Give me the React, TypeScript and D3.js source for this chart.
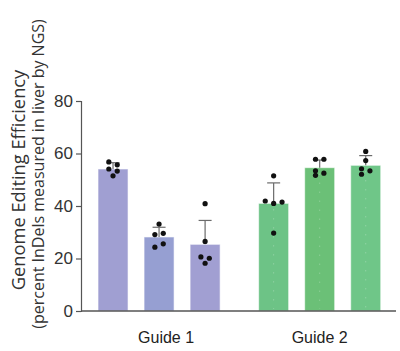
import { useEffect, useRef } from "react"
import * as d3 from "d3"

// groups and bars
const groups = ["Guide 1", "Guide 2"]
const barsPerGroup = [0, 1, 2]

// mean editing efficiency per bar (%)
const guide1Means = [54.1, 28.2, 25.4]
const guide2Means = [41.0, 54.6, 55.5]

// standard deviation (upper whisker only)
const guide1Sd = [2.4, 3.7, 9.1]
const guide2Sd = [7.8, 2.9, 3.7]

// individual animals
const guide1Points = [
  [56.8, 55.7, 54.1, 53.3, 51.5],
  [33.1, 29.1, 29.6, 24.3, 25.6],
  [40.9, 26.5, 20.6, 20.1, 18.2],
]
const guide2Points = [
  [51.5, 41.9, 41.0, 41.5, 29.7],
  [57.8, 57.8, 53.4, 51.7, 52.5],
  [60.8, 57.3, 54.2, 53.4, 52.1],
]

// horizontal jitter slot for each point (-2..2)
const guide1Jitter = [
  [-1, 1, -1, 1, 0],
  [0, -1, 1, -1, 1],
  [0, 0, -1, 1, 0],
]
const guide2Jitter = [
  [0, -2, 0, 2, 0],
  [-1, 1, -1, -1, 1],
  [0, 0, -1, 1, -1],
]

const yTicks = [0, 20, 40, 60, 80]

const guide1Colors = ["#a09fd2", "#969fd2", "#a19fd2"]
const guide2Colors = ["#6dc386", "#6bc077", "#6fc688"]

export default function App() {
  const svgRef = useRef<SVGSVGElement>(null)

  useEffect(() => {
    if (!svgRef.current) return
    d3.select(svgRef.current).selectAll("*").remove()

    const W = 400
    const H = 351
    const svg = d3.select(svgRef.current).attr("width", W).attr("height", H)

    const axisColor = "#555"
    const textColor = "#333"

    const y = d3.scaleLinear().domain([0, 80]).range([311, 101])
    const x0 = d3.scaleBand().domain(groups).range([78.75, 400]).padding(0)
    const x1 = d3
      .scaleBand<number>()
      .domain(barsPerGroup)
      .range([0, x0.bandwidth()])
      .paddingInner(0.348)
      .paddingOuter(0.4185)

    const data = [
      { group: groups[0], means: guide1Means, sd: guide1Sd, pts: guide1Points, jit: guide1Jitter, colors: guide1Colors },
      { group: groups[1], means: guide2Means, sd: guide2Sd, pts: guide2Points, jit: guide2Jitter, colors: guide2Colors },
    ]

    const bw = x1.bandwidth()

    data.forEach((g, gi) => {
      const gx = x0(g.group) || 0
      barsPerGroup.forEach((b) => {
        const bx = gx + (x1(b) || 0)
        const cx = bx + bw / 2
        const mean = g.means[b]
        // bar
        svg
          .append("rect")
          .attr("x", bx)
          .attr("y", y(mean))
          .attr("width", bw)
          .attr("height", y(0) - y(mean))
          .attr("fill", g.colors[b])
          .attr("stroke", "rgba(255,255,255,0.6)")
          .attr("stroke-width", 1)

        // faint dotted centre line on green bars
        if (gi === 1) {
          svg
            .append("line")
            .attr("x1", cx)
            .attr("x2", cx)
            .attr("y1", y(mean) + 6)
            .attr("y2", y(0) - 2)
            .attr("stroke", "rgba(255,255,255,0.35)")
            .attr("stroke-width", 1)
            .attr("stroke-dasharray", "1,8")
        }

        // error bar (upper)
        const top = y(mean + g.sd[b])
        svg
          .append("line")
          .attr("x1", cx)
          .attr("x2", cx)
          .attr("y1", y(mean))
          .attr("y2", top)
          .attr("stroke", "#6b6b6b")
          .attr("stroke-width", 1.2)
        svg
          .append("line")
          .attr("x1", cx - 6.5)
          .attr("x2", cx + 6.5)
          .attr("y1", top)
          .attr("y2", top)
          .attr("stroke", "#6b6b6b")
          .attr("stroke-width", 1.2)

        // points
        svg
          .append("g")
          .selectAll("circle")
          .data(g.pts[b])
          .enter()
          .append("circle")
          .attr("cx", (_, i) => cx + g.jit[b][i] * 4.2)
          .attr("cy", (d) => y(d))
          .attr("r", 2.6)
          .attr("fill", "#111")
      })
    })

    // y axis
    const yAxis = svg
      .append("g")
      .attr("transform", "translate(81,0)")
      .call(d3.axisLeft(y).tickValues(yTicks).tickSize(5).tickPadding(3))
    yAxis.select(".domain").attr("stroke", axisColor).attr("stroke-width", 1.2)
    yAxis.selectAll(".tick line").attr("stroke", axisColor).attr("stroke-width", 1.2)
    yAxis
      .selectAll(".tick text")
      .attr("fill", textColor)
      .style("font-family", "Liberation Sans, Arial, sans-serif")
      .style("font-size", "17px")

    // x axis line
    svg
      .append("line")
      .attr("x1", 81)
      .attr("x2", 396)
      .attr("y1", y(0))
      .attr("y2", y(0))
      .attr("stroke", axisColor)
      .attr("stroke-width", 1.4)

    // group labels
    svg
      .append("g")
      .selectAll("text")
      .data(groups)
      .enter()
      .append("text")
      .attr("x", (d, i) => (x0(d) || 0) + x0.bandwidth() / 2 + (i === 0 ? 7 : 0))
      .attr("y", 343)
      .attr("text-anchor", "middle")
      .attr("fill", "#222")
      .style("font-family", "Liberation Sans, Arial, sans-serif")
      .style("font-size", "16px")
      .text((d) => d)

    // y label, two lines
    svg
      .append("text")
      .attr("transform", "translate(25,180) rotate(-90)")
      .attr("text-anchor", "middle")
      .attr("fill", textColor)
      .style("font-family", "Open Sans, sans-serif")
      .style("font-size", "18.3px")
      .text("Genome Editing Efficiency")
    svg
      .append("text")
      .attr("transform", "translate(44,174) rotate(-90)")
      .attr("text-anchor", "middle")
      .attr("fill", textColor)
      .style("font-family", "Open Sans, sans-serif")
      .style("font-size", "16px")
      .text("(percent InDels measured in liver by NGS)")
  }, [])

  return (
    <div style={{ position: "absolute", left: 0, top: 0 }}>
      <svg ref={svgRef} style={{ display: "block" }}></svg>
    </div>
  )
}
